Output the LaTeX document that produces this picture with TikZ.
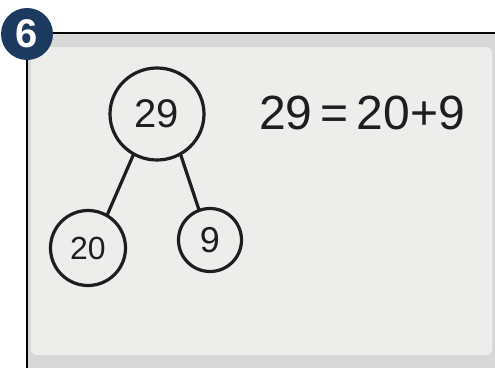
\documentclass[tikz,border=0pt]{standalone}
\usepackage{fontspec}
\setmainfont{Liberation Sans}
\usetikzlibrary{shapes.geometric}
\definecolor{navy}{HTML}{1C3A60}
\definecolor{framegray}{HTML}{D8D8D8}
\definecolor{board}{HTML}{EDEDEB}
\definecolor{ink}{HTML}{1E1E1E}
\begin{document}
\begin{tikzpicture}[x=1pt,y=1pt,
  bubble/.style={draw=ink,line width=3.2pt,inner sep=0pt,text=ink},
  branch/.style={draw=ink,line width=3.2pt,line cap=round}]
\useasboundingbox (0,0) rectangle (495,368);
\fill[white] (0,0) rectangle (495,368);
% frame
\fill[framegray] (27,0) rectangle (495,335);
\fill[board,rounded corners=6pt] (31,13) rectangle (492,321);
\draw[black,line width=2.5pt] (27,0) -- (27,335) -- (495,335);
% badge
\node[circle,fill=navy,minimum size=52pt,inner sep=0pt,text=white,font=\bfseries\fontsize{40}{40}\selectfont] (badge) at (27,334) {6};
% number bond
\node[bubble,ellipse,minimum width=94pt,minimum height=92pt] (top) at (157,254) {\fontsize{40}{40}\selectfont 29};
\node[bubble,circle,minimum size=75pt] (left) at (88,120) {\fontsize{32}{32}\selectfont 20};
\node[bubble,circle,minimum size=63pt] (right) at (210,128) {\fontsize{36}{36}\selectfont 9};
\draw[branch] (top.240) -- (left.60);
\draw[branch] (top.300) -- (right.110);
% equation
\node[text=ink,font=\fontsize{48}{48}\selectfont] (eq) at (362,255) {29\,=\,20+9};
\end{tikzpicture}
\end{document}
